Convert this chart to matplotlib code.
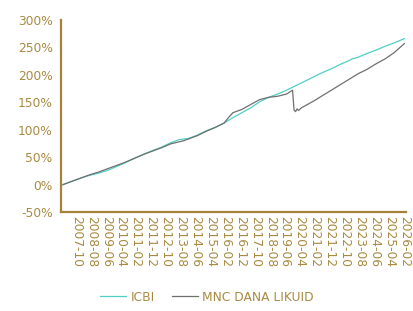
import matplotlib
matplotlib.use("Agg")
import matplotlib.pyplot as plt
import pandas as pd

# cumulative return (%)
icbi_dates = ["2007-01", "2007-07", "2008-01", "2008-07", "2009-01", "2009-07",
              "2010-01", "2010-07", "2011-01", "2011-07", "2012-01", "2012-07",
              "2013-01", "2013-07", "2014-01", "2014-07", "2015-01", "2015-07",
              "2016-01", "2016-07", "2017-01", "2017-07", "2018-01", "2018-07",
              "2019-01", "2019-07", "2020-01", "2020-07", "2021-01", "2021-07",
              "2022-01", "2022-07", "2023-01", "2023-03", "2023-07", "2024-01",
              "2024-07", "2025-01", "2025-07", "2026-02"]
icbi_values = [0, 6, 12, 17, 21, 26,
               33, 40, 48, 55, 62, 68,
               76, 82, 84, 90, 98, 104,
               112, 122, 131, 140, 151, 159,
               165, 172, 180, 188, 196, 204,
               211, 219, 226, 229, 232, 239,
               245, 252, 258, 266]

mnc_dates = ["2007-01", "2007-07", "2008-01", "2008-07", "2009-01", "2009-07",
             "2010-01", "2010-07", "2011-01", "2011-07", "2012-01", "2012-07",
             "2013-01", "2013-07", "2013-10", "2014-01", "2014-07", "2015-01",
             "2015-07", "2016-01", "2016-04", "2016-07", "2016-10", "2017-01",
             "2017-07", "2018-01", "2018-07", "2019-01", "2019-07", "2019-11",
             "2019-12", "2020-01", "2020-02", "2020-03", "2020-05", "2020-07",
             "2021-01", "2021-07", "2022-01", "2022-07", "2023-01", "2023-07",
             "2024-01", "2024-07", "2025-01", "2025-07", "2026-02"]
mnc_values = [0, 6, 12, 18, 23, 29,
              35, 41, 48, 55, 61, 67,
              74, 78, 80, 83, 89, 97,
              104, 112, 122, 131, 134, 137,
              146, 155, 159, 161, 165, 172,
              136, 133, 138, 135, 140, 143,
              152, 162, 172, 182, 192, 202,
              210, 220, 229, 240, 257]

tick_dates = pd.date_range("2007-10", periods=23, freq="10MS")
y_ticks = [-50, 0, 50, 100, 150, 200, 250, 300]

gold = "#A4823A"
text_gold = "#A88A42"
teal = "#4FCFC4"
grey = "#6F6F6F"

plt.rcParams["font.family"] = "DejaVu Sans"

fig = plt.figure(figsize=(4.14, 3.11), dpi=100)
ax = fig.add_axes([0.147, 0.318, 0.834, 0.618])

ax.plot(pd.to_datetime(icbi_dates), icbi_values, color=teal, linewidth=0.9, label="ICBI")
ax.plot(pd.to_datetime(mnc_dates), mnc_values, color=grey, linewidth=0.9, label="MNC DANA LIKUID")

ax.set_ylim(-50, 300)
ax.set_xlim(pd.Timestamp("2006-11-20"), pd.Timestamp("2026-03-07"))
ax.set_yticks(y_ticks)
ax.set_yticklabels([f"{v}%" for v in y_ticks])
ax.set_xticks(tick_dates)
ax.set_xticklabels([d.strftime("%Y-%m") for d in tick_dates], rotation=270,
                   ha="center", va="top")

for side in ["top", "right"]:
    ax.spines[side].set_visible(False)
for side in ["left", "bottom"]:
    ax.spines[side].set_color(gold)
    ax.spines[side].set_linewidth(1.6)

ax.tick_params(axis="both", length=0, labelsize=8.8, labelcolor=text_gold)
ax.tick_params(axis="y", pad=6)
ax.tick_params(axis="x", pad=3)

leg = fig.legend(loc="center", bbox_to_anchor=(0.5, 0.045), ncol=2, frameon=False,
                 fontsize=8.8, handlelength=2.1, handletextpad=0.4, columnspacing=1.4)
for t in leg.get_texts():
    t.set_color(text_gold)

fig.savefig("out.png", dpi=100)
